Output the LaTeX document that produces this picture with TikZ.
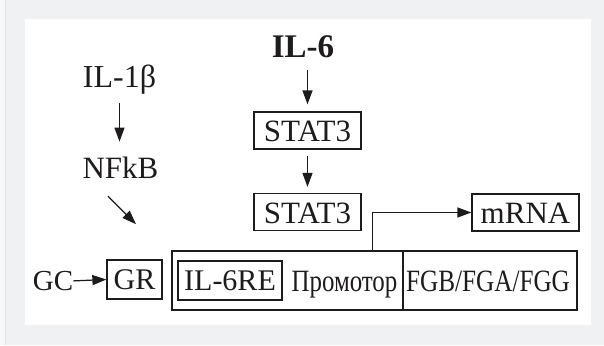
\documentclass[tikz,border=0pt]{standalone}
\usepackage{fontspec}
\usepackage{graphicx}
\setmainfont{Liberation Serif}
\usetikzlibrary{arrows.meta,calc}
\definecolor{bgray}{RGB}{240,241,243}
\definecolor{lgray}{RGB}{247,247,248}
\definecolor{sgray}{RGB}{228,229,231}
\definecolor{ink}{RGB}{30,27,28}
\begin{document}
\begin{tikzpicture}[x=1pt,y=-1pt,
  every node/.style={text=ink, font=\fontsize{31}{37}\selectfont},
  lbl/.style={inner sep=0pt, text depth=0pt, anchor=base},
  boxn/.style={draw=ink, line width=1.25pt, inner sep=0pt, text depth=0pt},
  arr/.style={draw=ink, line width=1.25pt, -{Triangle[length=14pt,width=10pt]}}]
\useasboundingbox (0,0) rectangle (604,345);
\fill[bgray] (0,0) rectangle (604,345);
\fill[lgray] (0,0) rectangle (5,345);
\draw[sgray, line width=1pt] (5.5,0) -- (5.5,345);
\fill[white] (25,19) rectangle (590.5,324.5);

\node[lbl, font=\bfseries\fontsize{33}{39}\selectfont] (il6) at (303,57.7) {IL-6};
\node[lbl, font=\fontsize{32}{38}\selectfont] (il1) at (119.5,87.3) {IL-1β};
\node[lbl] (nfkb) at (120.5,178.3) {NFkB};
\node[boxn, text height=22.5pt, minimum width=107pt, minimum height=37pt] (stat1) at (307.5,130.5) {STAT3};
\node[boxn, text height=22.5pt, minimum width=107pt, minimum height=37pt] (stat2) at (307.5,212) {STAT3};
\node[boxn, text height=22.5pt, minimum width=107pt, minimum height=37pt] (mrna) at (525.5,212.5) {mRNA};
\node[boxn, minimum width=231pt, minimum height=59pt] (prom) at (287.5,280.5) {};
\node[boxn, minimum width=174pt, minimum height=59pt] (gene) at (490,280.5) {};
\node[boxn, font=\fontsize{30}{36}\selectfont, minimum width=104pt, minimum height=39pt] (il6re) at (230,280.5) {IL-6RE};
\node[lbl] (promtxt) at (344.5,291.7) {\scalebox{0.803}[1]{Промотор}};
\node[lbl] (genetxt) at (488,291) {\scalebox{0.813}[1]{FGB/FGA/FGG}};
\node[boxn, font=\fontsize{30}{36}\selectfont, minimum width=55pt, minimum height=39pt] (gr) at (134.5,279.5) {GR};
\node[lbl, font=\fontsize{29}{35}\selectfont] (gc) at (53,290.5) {GC};

\draw[arr, shorten <=12.3pt, shorten >=7pt] (stat1.north |- il6.south) -- (stat1.north);
\draw[arr, shorten <=6pt, shorten >=6pt] (stat1.south) -- (stat2.north);
\draw[arr, shorten <=15.7pt, shorten >=15pt] (il1.south) -- (il1.south |- nfkb.north);
\draw[arr] ($(nfkb.south)+(-12.5,17.7)$) -- ($(nfkb.south)+(15.5,45.7)$);
\draw[arr] (gc.east) -- (gr.west);
\draw[arr] ($(prom.north west)+(201,0)$) |- (mrna.west);
\end{tikzpicture}
\end{document}
